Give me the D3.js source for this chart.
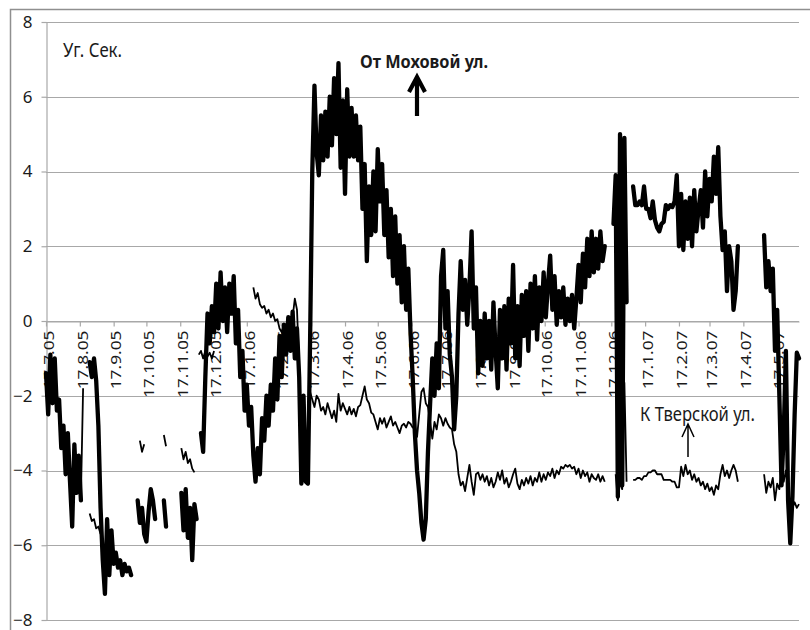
<!DOCTYPE html>
<html lang="ru">
<head>
    <meta charset="UTF-8">
    <title>Уг. Сек.</title>
    <style>
        body { margin: 0; background: #ffffff; }
        svg text { font-family: "Noto Sans", "Open Sans", sans-serif; fill: #1a1a1a; }
    </style>
    <script src="https://d3js.org/d3.v7.min.js"></script>
</head>
<body>
<div id="chart"></div>
<script>
    // dates of the first sample and of the axis end, samples every 2 days
    var startDate = "17.7.05";
    var endDate = "7.6.07";
    var stepDays = 2;

    var tickLabels = ["17.7.05", "17.8.05", "17.9.05", "17.10.05", "17.11.05", "17.12.05",
        "17.1.06", "17.2.06", "17.3.06", "17.4.06", "17.5.06", "17.6.06", "17.7.06", "17.8.06",
        "17.9.06", "17.10.06", "17.11.06", "17.12.06", "17.1.07", "17.2.07", "17.3.07", "17.4.07", "17.5.07"];
    var yTicks = [-8, -6, -4, -2, 0, 2, 4, 6, 8];

    // От Моховой ул. (angle seconds)
    var mokhovaya = [
        -1.4, -2.5, -0.9, -2.2, -1.0, -2.4, -2.1, -3.4, -2.8, -4.1,
        -3.0, -4.3, -5.5, -3.3, -4.6, -3.6, -4.8, null, null, null,
        -1.1, -1.5, -1.0, -1.6, -2.8, -5.0, -6.4, -7.3, -5.3, -6.8,
        -5.6, -6.5, -6.2, -6.6, -6.4, -6.8, -6.5, -6.7, -6.6, -6.8,
        null, null, -4.8, -5.4, -5.0, -5.7, -5.9, -5.1, -4.5, -4.8,
        -5.3, null, null, null, -4.8, -5.5, null, null, null, null,
        null, null, -4.6, -5.6, -4.5, -5.8, -5.0, -6.4, -4.9, -5.3,
        null, -3.0, -3.5, -1.5, 0.2, -0.6, 0.4, -0.3, 1.0, -0.2,
        1.3, 0.0, 0.9, -0.3, 1.0, 0.2, 1.2, -0.6, 0.3, -1.5,
        -0.8, -2.4, -1.7, -2.8, -2.3, -3.6, -4.3, -3.4, -4.1, -2.6,
        -3.2, -2.0, -2.8, -1.7, -2.4, -1.0, -2.1, -0.4, -1.5, -0.1,
        -0.9, 0.1, -0.8, 0.25, -1.0, -0.2, -1.5, -4.35, -2.0, -4.3,
        -4.35, -0.5, 4.0, 6.3, 4.5, 3.9, 5.5, 4.3, 5.6, 4.4,
        6.0, 4.7, 6.5, 5.0, 6.9, 4.1, 5.9, 3.4, 6.2, 4.4,
        5.7, 4.4, 5.5, 4.3, 5.2, 3.0, 4.2, 1.6, 3.6, 2.3,
        4.0, 2.4, 4.6, 3.2, 4.2, 2.3, 3.5, 1.7, 3.0, 1.2,
        2.8, 1.0, 2.3, 0.5, 2.0, 0.3, 1.4, -0.3, -1.5, -3.0,
        -4.0, -4.6, -5.4, -5.85, -5.3, -3.5, -2.2, -1.0, -2.0, -0.6,
        -1.8, 1.2, 1.9, -0.2, 0.8, -0.9, -1.5, -2.9, -2.0, 0.2,
        1.6, 0.3, 1.1, -0.1, 0.9, 2.4, -0.2, 0.9, -1.4, 0.0,
        -1.2, 0.2, -1.0, 0.0, -1.3, 0.5, -0.8, -1.8, 0.3, -1.0,
        0.4, -1.3, 0.6, -0.6, 1.5, -1.0, 0.4, -1.2, 0.7, -0.4,
        0.8, -0.8, 1.0, -0.2, 1.2, -0.5, 0.9, 0.0, 1.3, 0.1,
        1.0, 1.75, 0.3, 1.2, -0.1, 0.8, 0.1, 0.9, -0.1, 0.6,
        0.0, 0.7, -0.2, 0.6, 1.5, 0.5, 1.8, 0.9, 2.2, 1.2,
        2.4, 1.3, 2.2, 1.4, 2.4, 1.6, 2.0, null, null, null,
        2.6, 3.9, -4.7, 5.0, -4.4, 4.9, 0.5, null, null, 3.6,
        3.1, 3.1, 3.2, 3.1, 3.6, 3.0, 3.0, 2.75, 3.2, 2.7,
        2.5, 2.4, 2.6, 2.65, 3.1, 3.0, 3.1, 3.05, 3.2, 3.9,
        2.0, 3.4, 1.9, 3.2, 2.2, 3.3, 2.0, 3.5, 2.4, 3.0,
        3.5, 2.5, 4.0, 2.8, 3.8, 3.2, 4.4, 3.4, 4.65, 2.8,
        1.9, 2.4, 0.8, 2.0, 1.6, 0.3, 0.8, 2.0, null, null,
        null, null, null, null, null, null, null, null, null, 2.3,
        0.9, 1.6, 0.8, 1.4, -0.8, 0.3, -2.0, -4.4, -3.0, -0.8,
        -4.8, -5.95, -4.7, -2.5, -0.85, -1.0
    ];

    // К Тверской ул. (angle seconds)
    var tverskaya = [
        null, null, null, null, null, null, null, null, null, null,
        null, null, null, null, null, null, -4.7, -1.8, null, null,
        -5.15, -5.35, -5.3, -5.55, -5.5, -5.7, null, null, null, null,
        null, null, null, null, null, null, null, null, null, null,
        null, null, null, -3.2, -3.5, -3.3, null, null, null, null,
        null, null, null, null, -3.05, -3.35, null, null, null, null,
        null, null, -3.4, -3.7, -3.5, -3.8, -3.7, -3.95, -4.05, null,
        -0.9, -0.8, -1.0, -0.8, -0.95, -0.85, -1.0, -0.8, null, null,
        null, null, null, null, null, null, null, null, null, null,
        null, null, null, null, null, 0.9, 0.6, 0.75, 0.45, 0.35,
        0.4, 0.2, 0.3, 0.1, 0.2, 0.0, 0.05, -0.2, -0.3, -0.1,
        -0.4, -0.2, -0.5, 0.1, 0.6, 0.3, -1.2, -4.2, -3.0, -4.3,
        -2.8, -1.9, -2.1, -2.3, -2.0, -2.1, -2.4, -2.3, -2.5, -2.2,
        -2.4, -2.6, -2.4, -2.7, -1.95, -2.4, -2.2, -2.35, -2.5, -2.3,
        -2.5, -2.35, -2.55, -2.3, -2.25, -2.0, -1.75, -2.1, -2.2, -2.45,
        -2.5, -2.7, -2.9, -2.6, -2.75, -2.6, -2.85, -2.7, -2.55, -2.8,
        -2.7, -2.85, -3.0, -2.8, -2.75, -2.85, -2.7, -2.75, -2.85, -2.8,
        -3.1, -2.5, -1.9, -1.8, -2.2, -2.3, -2.7, -3.15, -2.7, -2.9,
        -2.5, -2.6, -2.8, -2.6, -2.75, -2.85, -2.9, -3.3, -3.5, -4.1,
        -4.4, -4.3, -4.55, -4.2, -3.85, -4.3, -4.65, -4.1, -4.05, -4.25,
        -4.1, -4.3, -4.15, -4.4, -4.2, -4.45, -4.3, -4.05, -4.25, -4.0,
        -4.35, -4.2, -4.45, -4.3, -4.1, -3.95, -4.35, -4.5, -4.25, -4.4,
        -4.2, -4.35, -4.15, -4.4, -4.2, -4.3, -4.05, -4.3, -4.1, -4.25,
        -4.05, -4.15, -3.95, -4.2, -4.0, -4.1, -3.9, -3.95, -3.85, -3.9,
        -3.85, -3.95, -3.9, -4.1, -3.95, -4.2, -4.0, -4.15, -4.05, -4.3,
        -4.1, -4.2, -4.25, -4.1, -4.3, -4.15, -4.3, null, null, null,
        null, -4.1, -4.8, -4.3, -4.5, -1.65, -4.3, null, null, -4.25,
        -4.25, -4.2, -4.2, -4.25, -4.15, -4.15, -4.05, -4.05, -4.0, -4.0,
        -4.1, -4.1, -4.1, -4.25, -4.25, -4.25, -4.25, -4.3, -4.3, -4.45,
        -4.45, -3.9, -4.15, -3.85, -4.1, -4.0, -4.25, -4.1, -4.3, -4.2,
        -4.4, -4.3, -4.5, -4.35, -4.55, -4.45, -4.65, -4.4, -4.5, -4.1,
        -3.85, -4.15, -4.0, -4.2, -4.0, -3.85, -4.0, -4.3, null, null,
        null, null, null, null, null, null, null, null, null, -4.1,
        -4.6, -4.3, -4.45, -4.2, -4.8, -4.35, -4.5, -4.0, -4.3, -4.0,
        -4.5, -4.9, -5.0, -4.85, -5.0, -4.9
    ];

    var width = 810;
    var height = 630;
    var gridColor = "#a8a8a8";

    var parseDate = d3.timeParse("%d.%m.%y");
    var t0 = parseDate(startDate);
    function dateAt(i) {
        return d3.timeDay.offset(t0, i * stepDays);
    }

    var xScale = d3.scaleTime().domain([t0, parseDate(endDate)]).range([46, 799]);
    var yScale = d3.scaleLinear().domain([-8, 8]).range([620, 22]);

    var svg = d3.select("#chart").append("svg")
        .attr("width", width)
        .attr("height", height);

    // outer chart frame (only top and left are in view)
    svg.append("rect")
        .attr("x", 10.5).attr("y", 9.5)
        .attr("width", 820).attr("height", 640)
        .attr("fill", "none")
        .attr("stroke", "#8f8f8f")
        .attr("stroke-width", 1.5);

    // horizontal gridlines
    svg.append("g")
        .selectAll("line")
        .data(yTicks)
        .enter()
        .append("line")
        .attr("x1", 46)
        .attr("x2", 799)
        .attr("y1", d => Math.round(yScale(d)) + 0.5)
        .attr("y2", d => Math.round(yScale(d)) + 0.5)
        .attr("stroke", gridColor)
        .attr("stroke-width", 1.2);

    // y axis
    var yAxis = svg.append("g")
        .attr("transform", "translate(46.5,0)")
        .call(d3.axisLeft(yScale).tickValues(yTicks).tickSize(5).tickSizeOuter(0).tickPadding(9));
    yAxis.selectAll("path, line").attr("stroke", gridColor).attr("stroke-width", 1.2);
    yAxis.selectAll("text")
        .style("font-size", "17px")
        .attr("fill", "#1a1a1a");

    // x axis along the zero line
    var xAxis = svg.append("g")
        .attr("transform", "translate(0," + (Math.round(yScale(0)) + 0.5) + ")")
        .call(d3.axisBottom(xScale)
            .tickValues(tickLabels.map(parseDate))
            .tickFormat(d3.timeFormat("%-d.%-m.%y"))
            .tickSize(5)
            .tickSizeOuter(0));
    xAxis.selectAll("path, line").attr("stroke", gridColor).attr("stroke-width", 1.2);
    xAxis.selectAll("text")
        .style("font-size", "15px")
        .attr("fill", "#1a1a1a")
        .attr("text-anchor", "end")
        .attr("transform", "rotate(-90)")
        .attr("x", -9)
        .attr("y", 2)
        .attr("dy", "0.35em")
        .attr("textLength", function () { return this.textContent.length * 8.4; })
        .attr("lengthAdjust", "spacingAndGlyphs");

    // series lines
    var line = d3.line()
        .defined(d => d !== null)
        .x((d, i) => xScale(dateAt(i)))
        .y(d => yScale(d));

    svg.append("path")
        .datum(mokhovaya)
        .attr("d", line)
        .attr("fill", "none")
        .attr("stroke", "#000")
        .attr("stroke-width", 4.3)
        .attr("stroke-linejoin", "round")
        .attr("stroke-linecap", "round");

    svg.append("path")
        .datum(tverskaya)
        .attr("d", line)
        .attr("fill", "none")
        .attr("stroke", "#000")
        .attr("stroke-width", 1.8)
        .attr("stroke-linejoin", "round");

    // annotations
    svg.append("text")
        .attr("x", 63).attr("y", 57)
        .style("font-size", "19px")
        .attr("textLength", 59)
        .attr("lengthAdjust", "spacingAndGlyphs")
        .text("Уг. Сек.");

    svg.append("text")
        .attr("x", 360).attr("y", 68)
        .style("font-size", "18px")
        .style("font-weight", "bold")
        .attr("textLength", 128)
        .attr("lengthAdjust", "spacingAndGlyphs")
        .text("От Моховой ул.");

    svg.append("path")
        .attr("d", "M417,116 L417,78 M409,92 L417,77 L425,92")
        .attr("fill", "none")
        .attr("stroke", "#000")
        .attr("stroke-width", 4.2);

    svg.append("text")
        .attr("x", 640).attr("y", 421)
        .style("font-size", "19px")
        .attr("textLength", 115)
        .attr("lengthAdjust", "spacingAndGlyphs")
        .text("К Тверской ул.");

    svg.append("path")
        .attr("d", "M688,457 L688,425 M682,437 L688,424 L694,437")
        .attr("fill", "none")
        .attr("stroke", "#000")
        .attr("stroke-width", 1.5);
</script>
</body>
</html>
